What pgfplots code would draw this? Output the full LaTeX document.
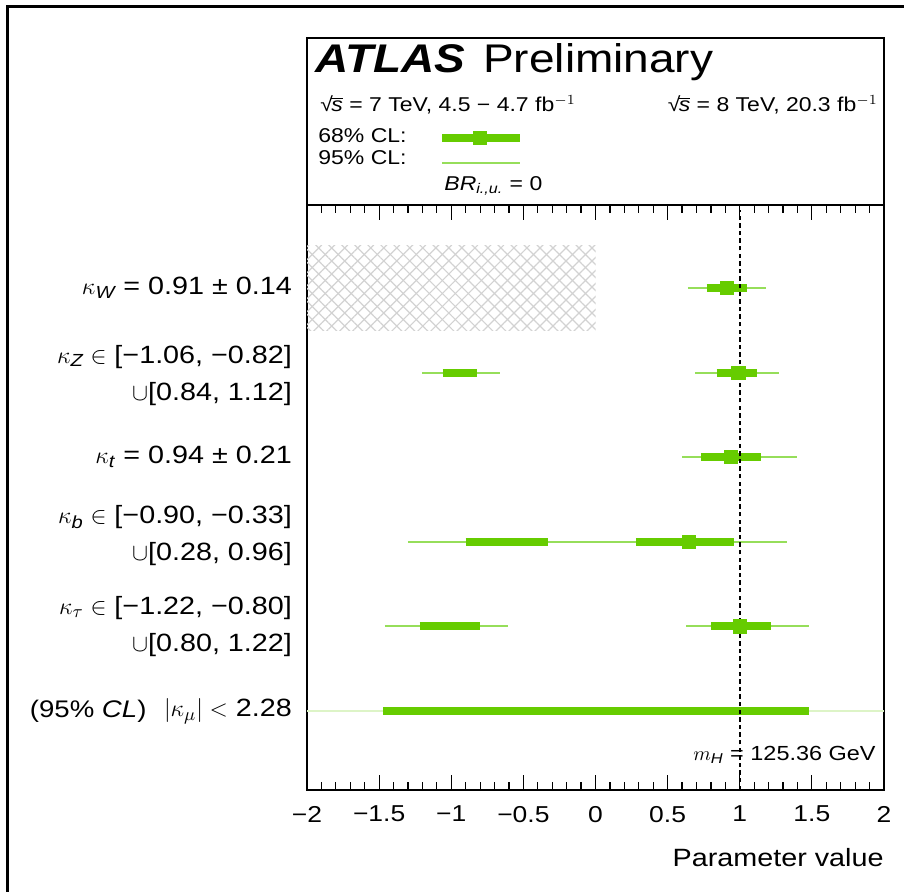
\documentclass[border=0pt]{standalone}
\usepackage{fontspec}
\setmainfont[FakeStretch=1.15]{Liberation Sans}
\usepackage{amsmath}
\usepackage{pgfplots}
\pgfplotsset{compat=1.18}
\usetikzlibrary{patterns.meta}
\definecolor{cgreen}{RGB}{102,204,0}
\definecolor{clight}{RGB}{150,222,90}
\newcommand{\sqrts}{√\kern-0.08em$\overline{\mbox{\textit{s}}}$}
\begin{document}
\begin{tikzpicture}
\path[use as bounding box] (0,0) rectangle (452pt,446pt);
\draw[line width=1.5pt] (3.5pt,0) -- (3.5pt,442.5pt) -- (452pt,442.5pt);
% lower axis
\begin{axis}[at={(153.5pt,51pt)}, anchor=south west, scale only axis,
  width=288.5pt, height=292.5pt,
  xmin=-2, xmax=2, ymin=0.066, ymax=6.98,
  xtick={-2,-1.5,...,2},
  xticklabels={−2,−1.5,−1,−0.5,0,0.5,1,1.5,2},
  minor x tick num=4, ytick=\empty,
  tick align=inside,
  major tick length=7.5pt, minor tick length=4pt,
  tick style={black, line width=0.6pt},
  axis line style={line width=0.8pt},
  xticklabel style={font=\fontsize{11.5}{13}\selectfont, yshift=-4.5pt},
  xlabel={Parameter value},
  xlabel style={at={(rel axis cs:1,0)}, anchor=east, inner sep=0pt, yshift=-34pt, font=\fontsize{12.5}{14}\selectfont},
  clip=false, unbounded coords=jump]
% hatched region
\addplot[draw=none, pattern={Lines[angle=45,distance=4.6pt,line width=0.6pt]}, pattern color=gray!35]
  coordinates {(-2,5.5) (0,5.5) (0,6.5) (-2,6.5)};
\addplot[draw=none, pattern={Lines[angle=-45,distance=4.6pt,line width=0.6pt]}, pattern color=gray!35]
  coordinates {(-2,5.5) (0,5.5) (0,6.5) (-2,6.5)};
% 95% CL
\addplot[clight, line width=1pt] coordinates {
  (0.64,6) (1.18,6) (0,nan)
  (-1.20,5) (-0.66,5) (0,nan)
  (0.69,5) (1.27,5) (0,nan)
  (0.60,4) (1.40,4) (0,nan)
  (-1.30,3) (1.33,3) (0,nan)
  (-1.46,2) (-0.61,2) (0,nan)
  (0.63,2) (1.48,2)};
\addplot[cgreen!22, line width=1pt] coordinates {(-2,1) (2,1)};
% 68% CL
\addplot[cgreen, line width=4pt] coordinates {
  (0.77,6) (1.05,6) (0,nan)
  (-1.06,5) (-0.82,5) (0,nan)
  (0.84,5) (1.12,5) (0,nan)
  (0.73,4) (1.15,4) (0,nan)
  (-0.90,3) (-0.33,3) (0,nan)
  (0.28,3) (0.96,3) (0,nan)
  (-1.22,2) (-0.80,2) (0,nan)
  (0.80,2) (1.22,2) (0,nan)
  (-1.47,1) (1.48,1)};
% best fit
\addplot[cgreen, only marks, mark=square*, mark size=3.3pt, mark options={fill=cgreen, draw=cgreen}]
  coordinates {(0.91,6) (0.99,5) (0.94,4) (0.65,3) (1.00,2)};
% SM line
\addplot[black, line width=0.9pt, dash pattern=on 2.2pt off 1.6pt] coordinates {(1,0.066) (1,6.92)};
% labels
\begin{scope}[every node/.style={font=\fontsize{12.5}{18.5}\selectfont, align=right, anchor=east, xshift=-4pt}]
\node at (axis cs:-2,6) {$\kappa_{\textit{W}}$ = 0.91 ± 0.14};
\node at (axis cs:-2,4.97) {$\kappa_{\textit{Z}} \in$ [−1.06, −0.82]\\ $\cup$[0.84, 1.12]};
\node at (axis cs:-2,4) {$\kappa_{\textit{t}}$ = 0.94 ± 0.21};
\node at (axis cs:-2,3.07) {$\kappa_{\textit{b}} \in$ [−0.90, −0.33]\\ $\cup$[0.28, 0.96]};
\node at (axis cs:-2,2) {$\kappa_{\tau} \in$ [−1.22, −0.80]\\ $\cup$[0.80, 1.22]};
\node at (axis cs:-2,1) {$|\kappa_{\mu}| <$ 2.28};
\end{scope}
\node[anchor=west, font=\fontsize{12}{14}\selectfont] at (axis cs:-3.97,1) {(95\% \textit{CL})};
\node[anchor=east, inner sep=0pt, font=\fontsize{10.2}{12}\selectfont] at (axis cs:1.945,0.48) {$m_{\textit{H}}$ = 125.36 GeV};
\end{axis}
% header axis
\begin{axis}[at={(153.5pt,343.5pt)}, anchor=south west, scale only axis,
  width=288.5pt, height=83.5pt,
  xmin=-2, xmax=2, ymin=0, ymax=167,
  xtick=\empty, ytick=\empty,
  axis line style={line width=0.8pt}, clip=false]
\addplot[cgreen, line width=4pt] coordinates {(-1.064,67) (-0.524,67)};
\addplot[cgreen, only marks, mark=square*, mark size=3.3pt, mark options={fill=cgreen, draw=cgreen}] coordinates {(-0.80,67)};
\addplot[clight, line width=1pt] coordinates {(-1.064,42) (-0.524,42)};
\node[anchor=base west, font=\fontsize{20}{24}\selectfont, inner sep=0pt] at (axis cs:-1.945,132)
  {\textbf{\textit{ATLAS}}\hspace{0.45em}Preliminary};
\node[anchor=west, font=\fontsize{10}{11}\selectfont, inner sep=0pt] at (axis cs:-1.91,100)
  {\sqrts\ = 7 TeV, 4.5 − 4.7 fb$^{-1}$};
\node[anchor=east, font=\fontsize{10}{11}\selectfont, inner sep=0pt] at (axis cs:1.96,100)
  {\sqrts\ = 8 TeV, 20.3 fb$^{-1}$};
\node[anchor=west, font=\fontsize{10}{11}\selectfont, inner sep=0pt] at (axis cs:-1.924,69) {68\% CL:};
\node[anchor=west, font=\fontsize{10}{11}\selectfont, inner sep=0pt] at (axis cs:-1.924,47) {95\% CL:};
\node[anchor=west, font=\fontsize{10}{11}\selectfont, inner sep=0pt] at (axis cs:-1.05,19) {\textit{BR}$_{\textit{i.,u.}}$ = 0};
\end{axis}
\end{tikzpicture}
\end{document}
